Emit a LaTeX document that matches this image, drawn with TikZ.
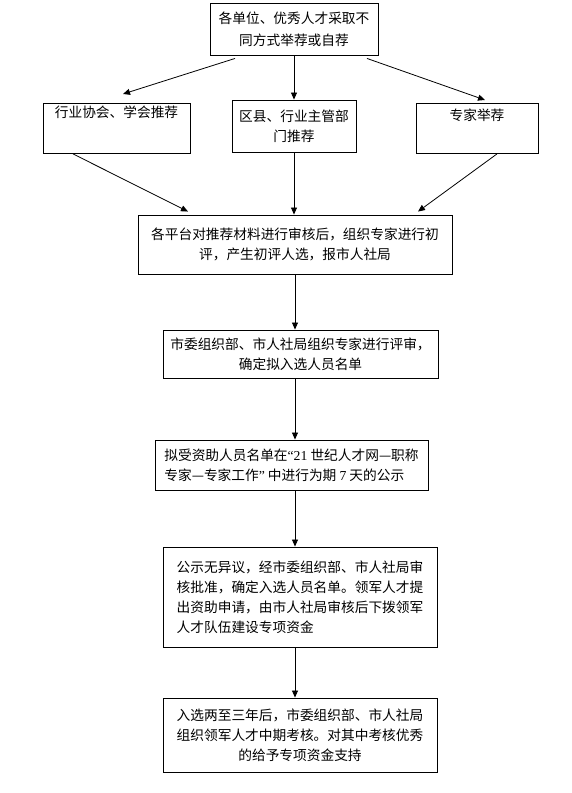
\documentclass[tikz,border=0pt]{standalone}
\usepackage{fontspec}
\setmainfont{Noto Sans CJK SC}
\newfontfamily\latin{Liberation Serif}
\usetikzlibrary{arrows.meta}
\begin{document}
\begin{tikzpicture}[x=1pt,y=-1pt,
    box/.style={draw, line width=0.9pt, inner sep=0pt, font=\fontsize{13.7}{20}\selectfont},
    arr/.style={-{Triangle[length=7pt,width=6pt]}, line width=0.8pt}]
  \useasboundingbox (0,0) rectangle (571,793);

  \node[box, minimum width=168pt, minimum height=52pt, align=center, font=\fontsize{13.7}{22}\selectfont] (units) at (294,29) {各单位、优秀人才采取不\\同方式举荐或自荐};
  \node[box, minimum width=147pt, anchor=north, text height=14pt, text depth=36pt] (assoc) at (116.5,103) {行业协会、学会推荐};
  \node[box, minimum width=124pt, minimum height=52pt, align=center] (district) at (294,126) {区县、行业主管部\\门推荐};
  \node[box, minimum width=122pt, anchor=north, text height=17pt, text depth=33pt] (expert) at (477,103) {专家举荐};
  \node[box, minimum width=314pt, minimum height=59pt, align=center] (review) at (295,244.5) {各平台对推荐材料进行审核后，组织专家进行初\\评，产生初评人选，报市人社局};
  \node[box, minimum width=275pt, minimum height=48pt, align=center] (evaluate) at (300.5,354) {市委组织部、市人社局组织专家进行评审，\\确定拟入选人员名单};
  \node[box, minimum width=273pt, minimum height=50pt, align=left] (publicity) at (291.5,465) {拟受资助人员名单在{\latin “21} 世纪人才网—职称\\专家—专家工作{\latin ”} 中进行为期 {\latin 7} 天的公示};
  \node[box, minimum width=274pt, minimum height=100pt, align=left] (approve) at (300,597) {公示无异议，经市委组织部、市人社局审\\核批准，确定入选人员名单。领军人才提\\出资助申请，由市人社局审核后下拨领军\\人才队伍建设专项资金};
  \node[box, minimum width=274pt, minimum height=74pt, align=center] (assess) at (300,735) {入选两至三年后，市委组织部、市人社局\\组织领军人才中期考核。对其中考核优秀\\的给予专项资金支持};

  \draw[arr] ([xshift=-59pt,yshift=-3pt]units.south) -- ([xshift=6.5pt,yshift=9pt]assoc.north);
  \draw[arr] (units) -- (district);
  \draw[arr] ([xshift=73pt,yshift=-3pt]units.south) -- ([xshift=8pt,yshift=3pt]expert.north);
  \draw[arr] ([xshift=-43.5pt]assoc.south) -- ([xshift=-107pt,yshift=3pt]review.north);
  \draw[arr] (district.south) -- (district.south |- review.north);
  \draw[arr] ([xshift=20pt]expert.south) -- ([xshift=123pt,yshift=3pt]review.north);
  \draw[arr] (review) -- (review |- evaluate.north);
  \draw[arr] (evaluate.south -| review) -- (publicity.north -| review);
  \draw[arr] (publicity.south -| review) -- (approve.north -| review);
  \draw[arr] (approve.south -| review) -- (assess.north -| review);
\end{tikzpicture}
\end{document}
